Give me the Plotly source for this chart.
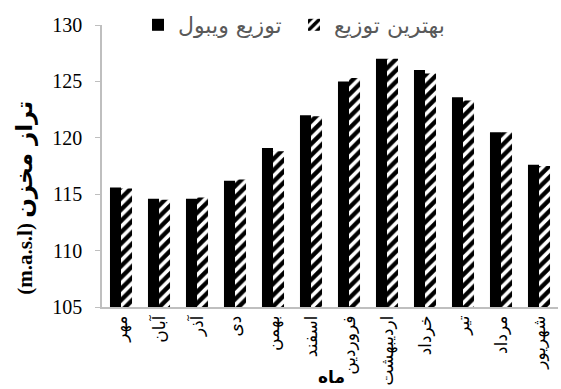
import plotly.graph_objects as go

# Persian month names (مهر ... شهریور)
months = ["مهر", "آبان", "آذر", "دی", "بهمن", "اسفند",
          "فروردین", "اردیبهشت", "خرداد", "تیر", "مرداد", "شهریور"]

# Reservoir level (m.a.s.l) per month
weibull = [115.6, 114.6, 114.6, 116.2, 119.1, 122.0,
           125.0, 127.0, 126.0, 123.6, 120.5, 117.6]
best_fit = [115.5, 114.5, 114.7, 116.3, 118.8, 121.9,
            125.3, 127.0, 125.7, 123.3, 120.5, 117.5]

series_names = ["توزیع ویبول", "بهترین توزیع"]
y_ticks = [105, 110, 115, 120, 125, 130]

fig = go.Figure()
fig.add_trace(go.Bar(
    x=months, y=weibull, name=series_names[0], legend="legend",
    marker=dict(color="black", line=dict(width=0)),
))
fig.add_trace(go.Bar(
    x=months, y=best_fit, name=series_names[1], legend="legend2",
    marker=dict(
        color="white", line=dict(width=0),
        pattern=dict(shape="/", fgcolor="black", bgcolor="white",
                     size=8, solidity=0.55, fillmode="replace"),
    ),
))

axis_grey = "#bfbfbf"
legend_font = dict(size=22, color="#595959", family="DejaVu Sans")
fig.update_layout(
    width=561, height=389,
    margin=dict(l=102, r=3, t=25, b=82, autoexpand=False),
    paper_bgcolor="white", plot_bgcolor="white",
    barmode="group", bargap=0.42, bargroupgap=0,
    font=dict(family="DejaVu Sans", color="black"),
    showlegend=True,
    legend=dict(
        orientation="h", x=0.079, y=1.0, xanchor="left", yanchor="middle",
        font=legend_font, itemwidth=30, bgcolor="rgba(0,0,0,0)",
    ),
    legend2=dict(
        orientation="h", x=0.421, y=1.0, xanchor="left", yanchor="middle",
        font=legend_font, itemwidth=30, bgcolor="rgba(0,0,0,0)",
    ),
    xaxis=dict(
        showline=True, linecolor=axis_grey, linewidth=1.5,
        ticks="", tickangle=-90,
        tickfont=dict(size=17, family="DejaVu Sans", color="black"),
    ),
    yaxis=dict(
        range=[105, 130], tickvals=y_ticks,
        showline=True, linecolor=axis_grey, linewidth=1.5,
        ticks="outside", tickcolor=axis_grey, ticklen=5,
        ticklabelstandoff=9,
        showgrid=False, zeroline=False,
        tickfont=dict(size=20, family="Liberation Serif", color="black"),
    ),
    annotations=[
        # y-axis title
        dict(
            text="<b>(m.a.s.l) <span style='font-family:DejaVu Sans;font-size:23px'>تراز مخزن</span></b>",
            xref="paper", yref="paper", x=-0.169, y=0.387,
            xanchor="center", yanchor="middle", textangle=-90, showarrow=False,
            font=dict(size=21, family="Liberation Serif", color="black"),
        ),
        # x-axis title
        dict(
            text="<b>ماه</b>",
            xref="paper", yref="paper", x=0.504, y=-0.248,
            xanchor="center", yanchor="middle", showarrow=False,
            font=dict(size=17, family="DejaVu Sans", color="black"),
        ),
    ],
)

fig.write_html("out.html")
